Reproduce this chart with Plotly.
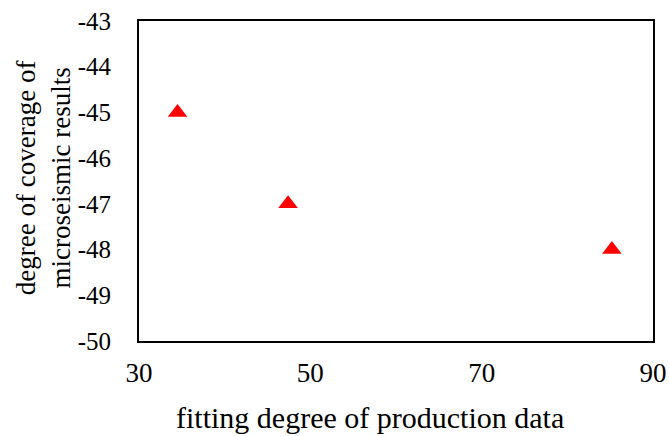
import plotly.graph_objects as go

x_vals = [34.5, 47.4, 85.2]
y_vals = [-45, -47, -48]
x_ticks = [30, 50, 70, 90]
y_ticks = [-50, -49, -48, -47, -46, -45, -44, -43]
x_title = "fitting degree of production data"
y_title = "degree of coverage of<br>microseismic results"

FONT = "Liberation Serif"

fig = go.Figure()
fig.add_trace(go.Scatter(
    x=x_vals, y=y_vals, mode="markers",
    marker=dict(symbol="triangle-up", size=17, color="#ff0000", line=dict(width=0)),
    showlegend=False,
))

fig.update_layout(
    width=669, height=436,
    margin=dict(l=139, r=16, t=21, b=95),
    paper_bgcolor="white", plot_bgcolor="white",
    font=dict(family=FONT, color="black", size=27),
)
fig.update_xaxes(
    range=[30, 90], tickvals=x_ticks, ticktext=[str(v) for v in x_ticks],
    showgrid=False, zeroline=False, automargin=False,
    showline=True, linecolor="black", linewidth=2, mirror=True,
    ticks="outside", ticklen=7, tickcolor="rgba(0,0,0,0)",
    tickfont=dict(family=FONT, size=27, color="black"),
)
fig.update_yaxes(
    range=[-50, -43], tickvals=y_ticks, ticktext=[str(v) for v in y_ticks],
    showgrid=False, zeroline=False, automargin=False,
    showline=True, linecolor="black", linewidth=2, mirror=True,
    ticks="outside", ticklen=21, tickcolor="rgba(0,0,0,0)",
    tickfont=dict(family=FONT, size=25, color="black"),
)
fig.add_annotation(
    text=x_title, xref="paper", yref="paper", x=0.45, y=-0.238,
    xanchor="center", yanchor="middle", showarrow=False,
    font=dict(family=FONT, size=30, color="black"),
)
fig.add_annotation(
    text=y_title, xref="paper", yref="paper", x=-0.186, y=0.51,
    xanchor="center", yanchor="middle", textangle=-90, showarrow=False,
    font=dict(family=FONT, size=27, color="black"),
)

fig.write_html(
    "out.html",
    config={"displayModeBar": False},
    post_script="document.body.style.margin='0';",
)
